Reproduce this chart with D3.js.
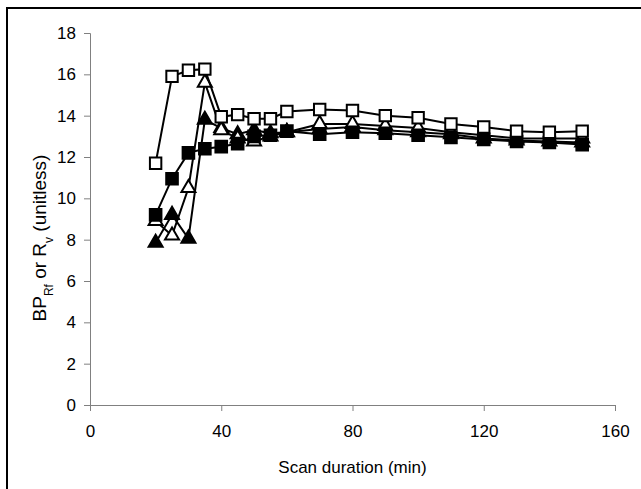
<!DOCTYPE html>
<html>
<head>
<meta charset="utf-8">
<script src="https://cdn.jsdelivr.net/npm/d3@7"></script>
<style>
  body { margin: 0; background: #fff; }
  svg { display: block; font-family: "Liberation Sans", Arial, sans-serif; }
</style>
</head>
<body>
<svg id="chart" width="641" height="489"></svg>
<script>
// scan duration (min)
const scanMinutes = [20, 25, 30, 35, 40, 45, 50, 55, 60, 70, 80, 90, 100, 110, 120, 130, 140, 150];

// values
const openSquares     = [11.7, 15.9, 16.2, 16.25, 13.95, 14.05, 13.85, 13.85, 14.2, 14.3, 14.25, 14.0, 13.9, 13.6, 13.45, 13.25, 13.2, 13.25];
const filledSquares   = [9.2, 10.95, 12.2, 12.4, 12.5, 12.65, 13.0, 13.05, 13.25, 13.1, 13.2, 13.15, 13.05, 12.95, 12.85, 12.75, 12.7, 12.6];
const openTriangles   = [8.9, 8.2, 10.5, 15.6, 13.3, 12.9, 12.75, 13.0, 13.2, 13.6, 13.6, 13.5, 13.4, 13.2, 13.05, 12.9, 12.9, 12.9];
const filledTriangles = [7.85, 9.2, 8.05, 13.8, 13.4, 13.1, 13.3, 13.15, 13.2, 13.35, 13.45, 13.3, 13.2, 13.1, 12.9, 12.8, 12.75, 12.7];

const xTicks = [0, 40, 80, 120, 160];
const yTicks = [0, 2, 4, 6, 8, 10, 12, 14, 16, 18];

let plot = { left: 90, right: 615, top: 33, bottom: 405 };

let svg = d3.select('#chart');

// outer frame (cropped on the right and bottom)
svg.append('rect')
   .attr('x', 7).attr('y', 8)
   .attr('width', 660).attr('height', 520)
   .attr('fill', 'none')
   .attr('stroke', '#000')
   .attr('stroke-width', 2);

let x = d3.scaleLinear().domain([0, 160]).range([plot.left, plot.right]);
let y = d3.scaleLinear().domain([0, 18]).range([plot.bottom, plot.top]);

let yAxis = svg.append('g')
   .attr('transform', `translate(${plot.left},0)`)
   .call(d3.axisLeft(y).tickValues(yTicks).tickSize(6).tickPadding(8).tickFormat(d3.format('d')));
let xAxis = svg.append('g')
   .attr('transform', `translate(0,${plot.bottom})`)
   .call(d3.axisBottom(x).tickValues(xTicks).tickSize(6).tickPadding(14).tickFormat(d3.format('d')));

[xAxis, yAxis].forEach(g => {
    g.select('.domain').attr('stroke', '#808080');
    g.selectAll('.tick line').attr('stroke', '#808080');
    g.selectAll('.tick text')
     .attr('fill', '#000')
     .style('font-size', '17px')
     .style('font-family', '"Liberation Sans", Arial, sans-serif');
});

// axis titles
svg.append('text')
   .attr('x', (plot.left + plot.right) / 2)
   .attr('y', 473)
   .attr('text-anchor', 'middle')
   .style('font-size', '17px')
   .text('Scan duration (min)');

let yTitle = svg.append('text')
   .attr('transform', 'translate(46,238) rotate(-90)')
   .attr('text-anchor', 'middle')
   .style('font-size', '19px');
yTitle.append('tspan').text('BP');
yTitle.append('tspan').attr('baseline-shift', 'sub').style('font-size', '12px').text('Rf');
yTitle.append('tspan').text(' or R');
yTitle.append('tspan').attr('baseline-shift', 'sub').style('font-size', '12px').text('v');
yTitle.append('tspan').text(' (unitless)');

let series = [
    { name: 'filledTriangles', values: filledTriangles, shape: d3.symbolTriangle, size: 85, fill: '#000' },
    { name: 'openTriangles',   values: openTriangles,   shape: d3.symbolTriangle, size: 85, fill: '#fff' },
    { name: 'filledSquares',   values: filledSquares,   shape: d3.symbolSquare,   size: 135, fill: '#000' },
    { name: 'openSquares',     values: openSquares,     shape: d3.symbolSquare,   size: 130, fill: '#fff' }
];

let line = d3.line()
    .x(d => x(d.t))
    .y(d => y(d.v));

series.forEach(s => {
    let pts = scanMinutes.map((t, i) => ({ t: t, v: s.values[i] }));
    let g = svg.append('g').attr('class', s.name);

    g.append('path')
     .datum(pts)
     .attr('d', line)
     .attr('fill', 'none')
     .attr('stroke', '#000')
     .attr('stroke-width', 2);

    g.selectAll('path.mark')
     .data(pts)
     .enter().append('path')
     .attr('class', 'mark')
     .attr('d', d3.symbol().type(s.shape).size(s.size))
     .attr('transform', d => `translate(${x(d.t)},${y(d.v)})`)
     .attr('fill', s.fill)
     .attr('stroke', '#000')
     .attr('stroke-width', 2);
});
</script>
</body>
</html>
